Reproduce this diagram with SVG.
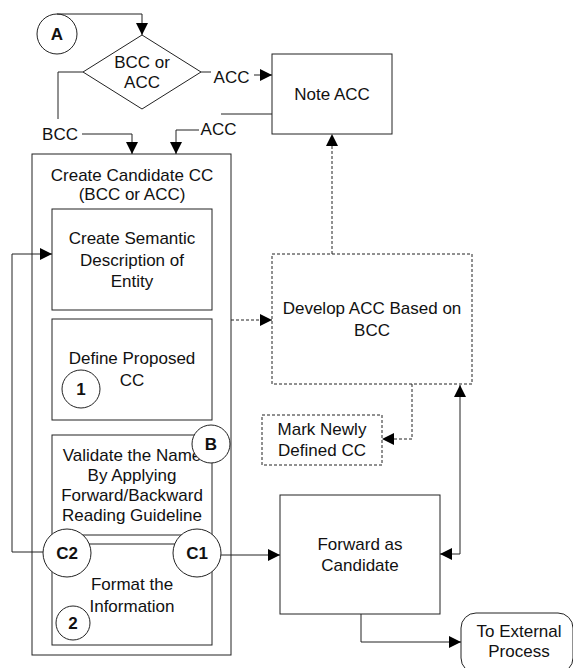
<svg xmlns="http://www.w3.org/2000/svg" width="573" height="668" viewBox="0 0 573 668">
  <defs>
    <style>
      .t { font-family: "Liberation Sans", Arial, sans-serif; font-size: 17px; text-anchor: middle; fill: #111; }
      .b { font-weight: bold; }
      .box { fill: #fff; stroke: #222; stroke-width: 1; }
      .dash { stroke-dasharray: 3 2; }
      .ln { fill: none; stroke: #222; stroke-width: 1; }
      .arr { marker-end: url(#ah); }
    </style>
    <marker id="ah" markerUnits="userSpaceOnUse" markerWidth="12" markerHeight="12" refX="12" refY="6" orient="auto-start-reverse">
      <path d="M0,0 L12,6 L0,12 z" fill="#000"/>
    </marker>
  </defs>

  <rect width="573" height="668" fill="#fff"/>

  <g id="start-a">
    <circle cx="57" cy="34" r="20" class="box"/>
    <text class="t b" x="57" y="40">A</text>
  </g>

  <g id="decision">
    <polygon points="142,35 201,72 142,109 83,72" class="box"/>
    <text class="t" x="142" y="68">BCC or</text>
    <text class="t" x="142" y="88">ACC</text>
  </g>

  <g id="note-acc">
    <rect x="272" y="54" width="120" height="80" class="box"/>
    <text class="t" x="332" y="100">Note ACC</text>
  </g>

  <g id="create-candidate">
    <rect x="32" y="154" width="199" height="501" class="box"/>
    <text class="t" x="132" y="181">Create Candidate CC</text>
    <text class="t" x="132" y="200">(BCC or ACC)</text>
  </g>

  <g id="semantic-description">
    <rect x="52" y="209" width="160" height="101" class="box"/>
    <text class="t" x="132" y="244">Create Semantic</text>
    <text class="t" x="132" y="265.5">Description of</text>
    <text class="t" x="132" y="287">Entity</text>
  </g>

  <g id="define-proposed">
    <rect x="52" y="319" width="160" height="101" class="box"/>
    <text class="t" x="132" y="364">Define Proposed</text>
    <text class="t" x="132" y="386">CC</text>
    <circle cx="81" cy="389" r="19" class="box"/>
    <text class="t b" x="81" y="395">1</text>
  </g>

  <g id="validate-name">
    <rect x="52" y="435" width="160" height="100" class="box"/>
    <text class="t" x="132" y="461">Validate the Name</text>
    <text class="t" x="132" y="481">By Applying</text>
    <text class="t" x="132" y="501">Forward/Backward</text>
    <text class="t" x="132" y="521">Reading Guideline</text>
    <circle cx="211" cy="444" r="19" class="box"/>
    <text class="t b" x="211" y="450">B</text>
  </g>

  <g id="format-info">
    <rect x="52" y="544" width="160" height="101" class="box"/>
    <text class="t" x="132" y="590">Format the</text>
    <text class="t" x="132" y="612">Information</text>
    <circle cx="73" cy="623" r="17" class="box"/>
    <text class="t b" x="73" y="629">2</text>
  </g>

  <g id="connector-c2">
    <circle cx="67" cy="553" r="24" class="box"/>
    <text class="t b" x="67" y="559">C2</text>
  </g>

  <g id="connector-c1">
    <circle cx="197" cy="553" r="24" class="box"/>
    <text class="t b" x="197" y="559">C1</text>
  </g>

  <g id="develop-acc">
    <rect x="272" y="254" width="200" height="130" class="box dash"/>
    <text class="t" x="372" y="314">Develop ACC Based on</text>
    <text class="t" x="372" y="336">BCC</text>
  </g>

  <g id="mark-newly">
    <rect x="262" y="415" width="120" height="50" class="box dash"/>
    <text class="t" x="322" y="435">Mark Newly</text>
    <text class="t" x="322" y="456">Defined CC</text>
  </g>

  <g id="forward-candidate">
    <rect x="280" y="495" width="160" height="119" class="box"/>
    <text class="t" x="360" y="550">Forward as</text>
    <text class="t" x="360" y="571">Candidate</text>
  </g>

  <g id="external-process">
    <rect x="461" y="613" width="112" height="60" rx="15" ry="15" class="box"/>
    <text class="t" x="519" y="637">To External</text>
    <text class="t" x="519" y="657">Process</text>
  </g>

  <!-- connectors, drawn over the boxes they cross -->
  <g id="connectors">
    <path class="ln arr" d="M57,14 H142 V35"/>
    <path class="ln" d="M201,72 H211"/>
    <path class="ln arr" d="M254,75 H272"/>
    <path class="ln" d="M83,72 H58 V119"/>
    <path class="ln arr" d="M82,134 H132 V154"/>
    <path class="ln" d="M272,114 H221"/>
    <path class="ln arr" d="M199,130 H176 V154"/>
    <path class="ln arr" d="M43,552 H12 V254 H52"/>
    <path class="ln arr" d="M221,555 H280"/>
    <path class="ln arr" d="M361,614 V642 H461"/>
    <path class="ln arr" d="M460,385 V554 H440" marker-start="url(#ah)"/>
    <path class="ln dash arr" d="M332,254 V134"/>
    <path class="ln dash arr" d="M231,320 H272"/>
    <path class="ln dash arr" d="M412,384 V439 H382"/>
  </g>

  <!-- connector labels -->
  <g id="labels">
    <text class="t" x="231.5" y="83">ACC</text>
    <text class="t" x="218.5" y="135">ACC</text>
    <text class="t" x="60" y="140">BCC</text>
  </g>
</svg>
